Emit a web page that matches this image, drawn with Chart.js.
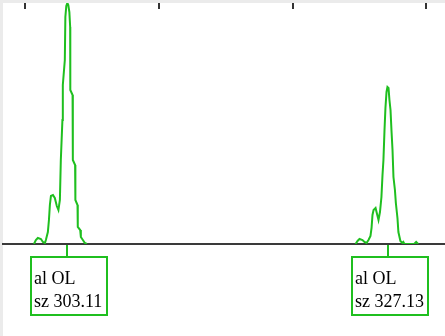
<!DOCTYPE html>
<html>
<head>
<meta charset="utf-8">
<script src="https://cdn.jsdelivr.net/npm/chart.js@4.4.1/dist/chart.umd.min.js"></script>
<style>
  html, body { margin: 0; padding: 0; background: #ebebeb; }
  #wrap { width: 445px; height: 336px; }
</style>
</head>
<body>
<div id="wrap"><canvas id="trace" width="445" height="336"></canvas></div>
<script>
// size in bp (x) and signal in RFU (y)
const peak1Size = [300.64, 300.78, 300.93, 301.16, 301.31, 301.46, 301.53, 301.68, 301.76, 301.83,
  301.91, 302.06, 302.20, 302.35, 302.47, 302.58, 302.65, 302.77, 302.80, 302.95,
  302.99, 303.06, 303.14, 303.21, 303.29, 303.35, 303.36, 303.53, 303.55, 303.72,
  303.74, 303.90, 303.92, 304.10, 304.15, 304.30, 304.45, 304.60];
const peak1Rfu = [0, 40, 60, 50, 20, 10, 40, 120, 240, 390,
  480, 490, 460, 380, 340, 440, 840, 1240, 1590, 1840,
  2270, 2380, 2410, 2390, 2320, 2170, 1540, 1490, 840, 790,
  440, 390, 170, 140, 70, 40, 10, 0];

const peak2Size = [324.72, 324.87, 325.02, 325.24, 325.39, 325.54, 325.69, 325.84, 325.92, 325.99,
  326.07, 326.22, 326.33, 326.44, 326.55, 326.66, 326.74, 326.81, 326.89, 326.96,
  327.04, 327.11, 327.19, 327.26, 327.34, 327.41, 327.49, 327.56, 327.67, 327.74,
  327.86, 327.93, 328.08, 328.23, 328.30, 328.38, 329.11, 329.26, 329.41];
const peak2Rfu = [0, 30, 50, 40, 20, 10, 40, 80, 160, 290,
  340, 360, 300, 240, 320, 470, 690, 840, 1140, 1360,
  1520, 1570, 1560, 1440, 1340, 1140, 940, 670, 540, 410,
  260, 120, 30, 10, 20, 0, 0, 20, 0];

const xTicks = [300, 310, 320, 330];
const labelSize = [303.11, 327.13];
const labelAllele = ['al OL', 'al OL'];

const traceGreen = '#1fbf1f';

let points = [];
peak1Size.forEach((s, i) => points.push({ x: s, y: peak1Rfu[i] }));
points.push({ x: 314, y: null });  // gap between the two peaks
peak2Size.forEach((s, i) => points.push({ x: s, y: peak2Rfu[i] }));

const backdrop = {
  id: 'backdrop',
  beforeDraw(chart) {
    const ctx = chart.ctx;
    ctx.save();
    ctx.fillStyle = '#ebebeb';
    ctx.fillRect(0, 0, chart.width, chart.height);
    ctx.fillStyle = '#ffffff';
    ctx.fillRect(3, 3, chart.width - 3, chart.height - 3);
    ctx.restore();
  }
};

const peakLabels = {
  id: 'peakLabels',
  afterDraw(chart) {
    const ctx = chart.ctx;
    const xs = chart.scales.x;
    const base = chart.chartArea.bottom;
    ctx.save();
    ctx.strokeStyle = traceGreen;
    ctx.lineWidth = 2;
    ctx.fillStyle = '#000';
    ctx.font = '18px "Liberation Serif", "DejaVu Serif", serif';
    ctx.textBaseline = 'alphabetic';
    labelSize.forEach((s, i) => {
      const px = Math.round(xs.getPixelForValue(s));
      const left = px - 36, top = 257, w = 76, h = 58;
      ctx.beginPath();
      ctx.moveTo(px, base + 1);
      ctx.lineTo(px, top);
      ctx.stroke();
      ctx.strokeRect(left, top, w, h);
      ctx.fillText(labelAllele[i], left + 3, top + 27);
      ctx.fillText('sz ' + s.toFixed(2), left + 3, top + 50);
    });
    ctx.restore();
  }
};

new Chart(document.getElementById('trace'), {
  type: 'line',
  data: {
    datasets: [{
      data: points,
      borderColor: traceGreen,
      borderWidth: 2,
      pointRadius: 0,
      tension: 0,
      spanGaps: false,
      clip: { left: 0, top: 6, right: 0, bottom: 0 }
    }]
  },
  options: {
    responsive: false,
    animation: false,
    devicePixelRatio: 1,
    layout: { padding: { left: 3, top: 3, right: 0, bottom: 92 } },
    plugins: { legend: { display: false }, tooltip: { enabled: false } },
    scales: {
      x: {
        type: 'linear',
        position: 'top',
        min: 298.32,
        max: 331.42,
        afterBuildTicks: (scale) => { scale.ticks = xTicks.map(v => ({ value: v })); },
        ticks: { display: false },
        border: { display: false },
        grid: { drawOnChartArea: false, drawTicks: true, tickLength: 6, color: '#333333', lineWidth: 2 }
      },
      x2: {
        type: 'linear',
        position: 'bottom',
        min: 298.32,
        max: 331.42,
        z: 1,
        ticks: { display: false },
        grid: { drawOnChartArea: false, drawTicks: false },
        border: { display: true, color: '#3a3a3a', width: 2 }
      },
      y: { display: false, min: 0, max: 2350 }
    }
  },
  plugins: [backdrop, peakLabels]
});
</script>
</body>
</html>
